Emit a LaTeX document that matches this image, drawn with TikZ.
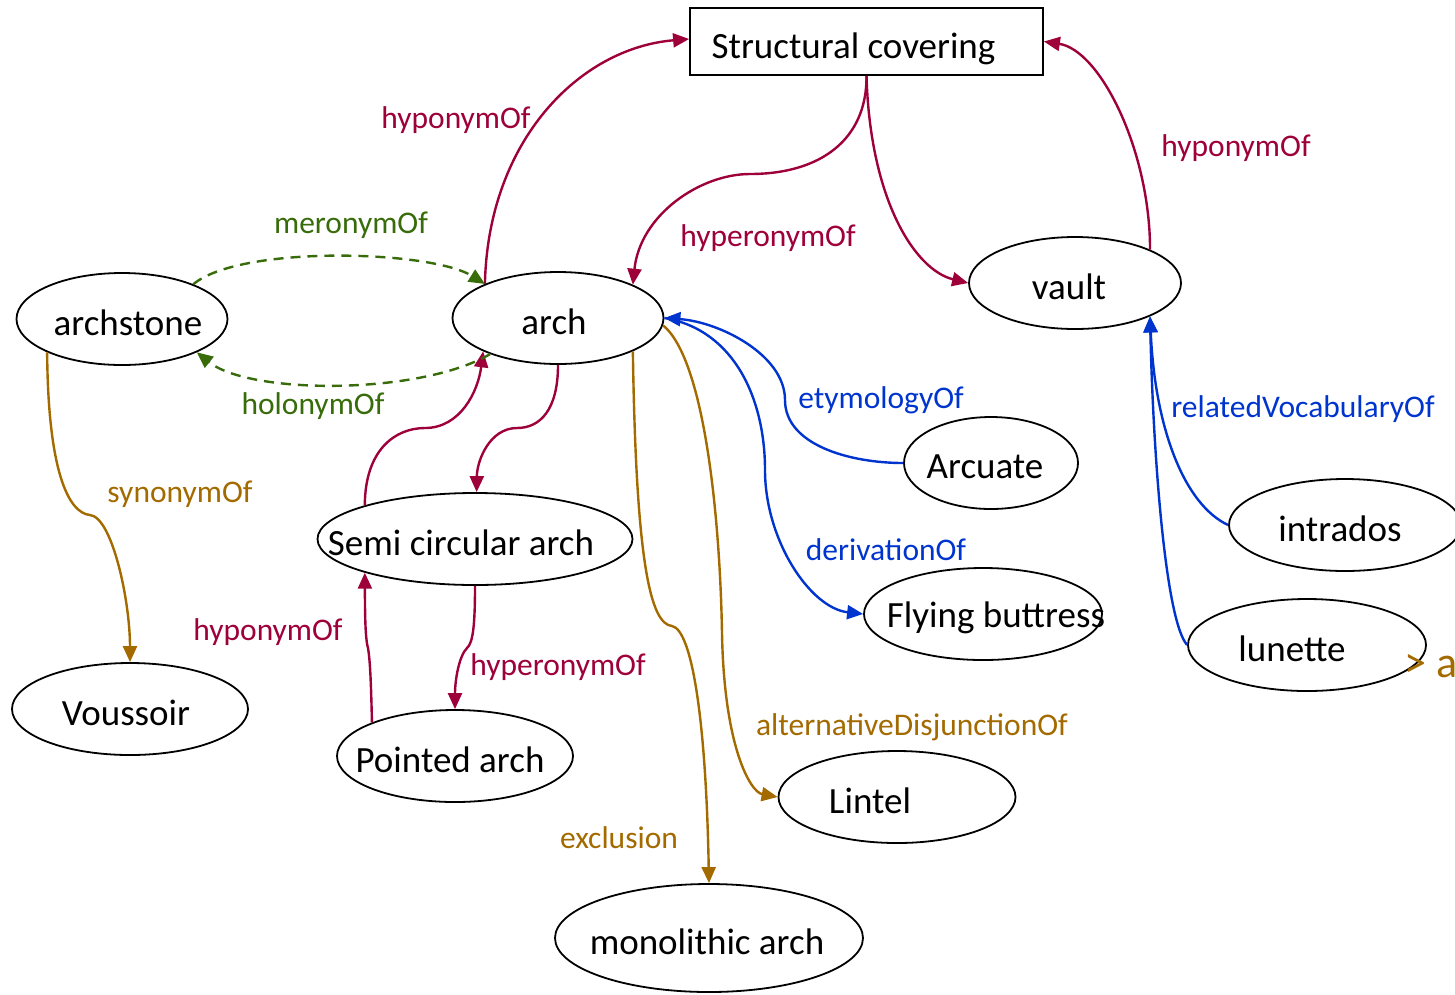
\documentclass[tikz,border=0pt]{standalone}
\usepackage{fontspec}
\setmainfont{Carlito}
\usepackage{xcolor}
\usepackage{tikz}
\usetikzlibrary{shapes.geometric, arrows.meta, positioning}

\definecolor{hypored}{RGB}{158,0,58}
\definecolor{merogreen}{RGB}{56,108,10}
\definecolor{synbrown}{RGB}{163,106,0}
\definecolor{etyblue}{RGB}{0,52,206}

\begin{document}
\begin{tikzpicture}[
    x=1pt, y=-1pt,
    concept/.style={draw, ellipse, line width=1.8pt, minimum width=#1, minimum height=92pt, inner sep=0pt},
    every label/.append style={font=\fontsize{37}{44}\selectfont, yshift=-4pt},
    rel/.style={font=\fontsize{31.5}{38}\selectfont, inner sep=0pt},
    link/.style={line width=2.4pt, -{Triangle[length=16pt,width=14pt]}},
    dash link/.style={link, dash pattern=on 10pt off 7pt}
]
    \useasboundingbox (0,0) rectangle (1455,994);

    \node[draw, line width=1.8pt, minimum width=353pt, minimum height=67pt, label={[xshift=-13pt, yshift=-3pt]center:Structural covering}] (sc) at (866.5,41.5) {};
    \node[concept=211pt, label={[xshift=-4pt]center:arch}] (arch) at (558,318) {};
    \node[concept=211pt, label={[xshift=6pt]center:archstone}] (archstone) at (122,319) {};
    \node[concept=212pt, label={[xshift=-6pt]center:vault}] (vault) at (1075,283) {};
    \node[concept=174pt, label={[xshift=-6pt]center:Arcuate}] (arcuate) at (991,463) {};
    \node[concept=315pt, label={[xshift=-14pt]center:Semi circular arch}] (semi) at (475,539) {};
    \node[concept=238pt, label={[xshift=13pt]center:Flying buttress}] (fly) at (983,614) {};
    \node[concept=232pt, label={[xshift=-5pt]center:intrados}] (intrados) at (1345,525) {};
    \node[concept=238pt, label={[xshift=-15pt]center:lunette}] (lunette) at (1307,645) {};
    \node[concept=236pt, label={[xshift=-4pt]center:Voussoir}] (voussoir) at (130,709) {};
    \node[concept=236pt, label={[xshift=-5pt]center:Pointed arch}] (pointed) at (455,756) {};
    \node[concept=237pt, label={[xshift=-27pt]center:Lintel}] (lintel) at (897,797) {};
    \node[concept=308pt, minimum height=108pt, label={[xshift=-2pt]center:monolithic arch}] (mono) at (709,938) {};

    % hierarchy
    \draw[link, hypored] (arch.155) .. controls (488,140) and (580,48) .. ([yshift=2.5pt]sc.west);
    \draw[link, hypored] (sc.south) .. controls (867,140) and (820,174) .. (750,174) .. controls (700,174) and (640,215) .. (arch.24);
    \draw[link, hypored] (sc.south) .. controls (870,200) and (915,270) .. (vault.west);
    \draw[link, hypored] (vault.24) .. controls (1150,150) and (1100,50) .. (sc.east);
    \draw[link, hypored] (semi.163) .. controls (365,450) and (395,428) .. (425,428) .. controls (460,428) and (478,392) .. (arch.204);
    \draw[link, hypored] (arch.south) .. controls (558,410) and (540,428) .. (517,428) .. controls (490,428) and (477,460) .. (semi.88);
    \draw[link, hypored] (pointed.158) .. controls (371,680) and (370,660) .. (368,648) .. controls (365,638) and (365,610) .. (semi.197);
    \draw[link, hypored] (semi.south) .. controls (475,625) and (473,643) .. (467,648) .. controls (459,656) and (455,680) .. (pointed.north);

    % parts
    \draw[dash link, merogreen] (archstone.26) .. controls (240,245) and (430,250) .. (arch.155);
    \draw[dash link, merogreen] (arch.208) .. controls (420,395) and (250,395) .. (archstone.-24);

    % lexical
    \draw[link, synbrown] (archstone.204) .. controls (48,470) and (68,513) .. (90,515) .. controls (112,517) and (130,600) .. (voussoir.north);
    \draw[link, synbrown] (arch.-24) .. controls (636,560) and (650,624) .. (672,626) .. controls (692,630) and (706,720) .. (mono.north);
    \draw[link, synbrown] (arch.-4) .. controls (705,360) and (720,520) .. (722,633) .. controls (724,746) and (750,792) .. (lintel.west);
    \draw[link, etyblue] (arcuate.west) .. controls (850,463) and (785,445) .. (785,400) .. controls (785,355) and (720,322) .. (arch.east);
    \draw[link, etyblue] (arch.east) .. controls (735,330) and (765,400) .. (765,470) .. controls (765,540) and (810,608) .. (fly.west);
    \draw[link, etyblue] (intrados.west) .. controls (1185,505) and (1155,430) .. (vault.-24);
    \draw[link, etyblue] (lunette.west) .. controls (1165,620) and (1153,450) .. (vault.-24);

    \node[rel, text=hypored] (hypo1) at (456,120) {hyponymOf};
    \node[rel, text=hypored] (hyper1) at (768,238) {hyperonymOf};
    \node[rel, text=hypored] (hypo2) at (1236,148) {hyponymOf};
    \node[rel, text=merogreen] (mero) at (351,225) {meronymOf};
    \node[rel, text=merogreen] (holo) at (313,406) {holonymOf};
    \node[rel, text=synbrown] (syno) at (180,494) {synonymOf};
    \node[rel, text=hypored] (hypo3) at (268,632) {hyponymOf};
    \node[rel, text=hypored] (hyper2) at (558,667) {hyperonymOf};
    \node[rel, text=synbrown] (excl) at (619,838) {exclusion};
    \node[rel, text=synbrown] (alt) at (912,727) {alternativeDisjunctionOf};
    \node[rel, text=etyblue] (etym) at (881,400) {etymologyOf};
    \node[rel, text=etyblue] (deriv) at (886,550) {derivationOf};
    \node[rel, text=etyblue] (relvoc) at (1303,409) {relatedVocabularyOf};
    \node[rel, text=synbrown, anchor=west, font=\fontsize{44}{50}\selectfont] (cut) at (1404,666) {> a};
\end{tikzpicture}
\end{document}
